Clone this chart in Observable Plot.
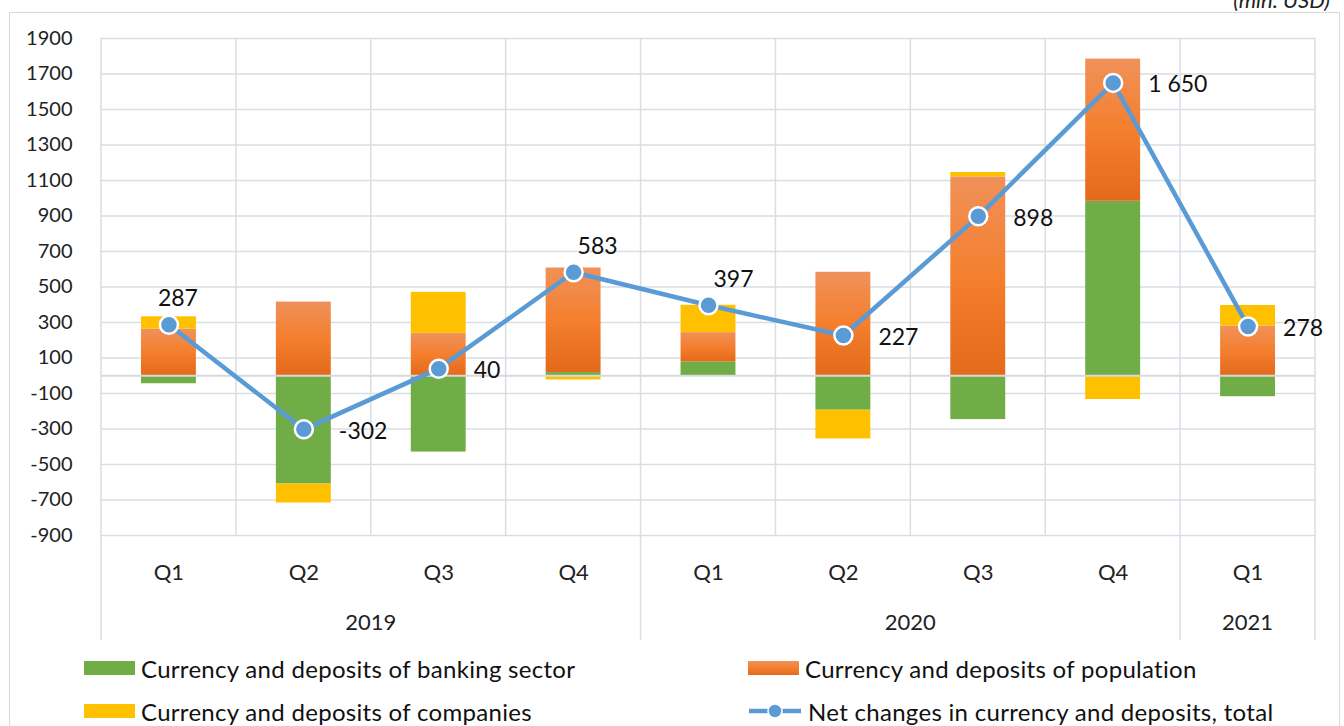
<!DOCTYPE html>
<html><head><meta charset="utf-8">
<script src="https://cdn.jsdelivr.net/npm/d3@7"></script>
<script src="https://cdn.jsdelivr.net/npm/@observablehq/plot@0.6"></script>
<style>
body{margin:0;background:#fff;font-family:Lato,sans-serif;}
#wrap{position:relative;width:1344px;height:726px;overflow:hidden;background:#fff;}
#frame{position:absolute;left:9px;top:12px;width:1331px;height:740px;border:1px solid #D9D9D9;box-sizing:border-box;}
#unit{position:absolute;right:14px;top:-11px;font-style:italic;font-size:22px;line-height:22px;color:#222;}
#chart{position:absolute;left:0;top:0;}
.leg{position:absolute;display:flex;align-items:center;height:30px;font-size:24px;letter-spacing:0.3px;color:#111;white-space:nowrap;}
.sw{width:51px;height:14px;margin-right:6px;}
</style>
</head><body>
<div id="wrap">
  <div id="frame"></div>
  <div id="unit">(mln. USD)</div>
  <div id="chart"></div>
  <div id="legend"></div>
</div>
<script>
// ---- data ----
const periods  = ["2019 Q1","2019 Q2","2019 Q3","2019 Q4","2020 Q1","2020 Q2","2020 Q3","2020 Q4","2021 Q1"];
const years    = ["2019","2020","2021"];
const seriesNames = [
  "Currency and deposits of banking sector",
  "Currency and deposits of population",
  "Currency and deposits of companies"
];
const totalName = "Net changes in currency and deposits, total";
const banking    = [-45, -610, -430, 18, 78, -194, -247, 983, -118];
const population = [262, 415, 239, 589, 165, 583, 1120, 801, 279];
const companies  = [70, -107, 231, -24, 154, -162, 25, -134, 117];
const total      = [287, -302, 40, 583, 397, 227, 898, 1650, 278];
const yTicks     = [-900,-700,-500,-300,-100,100,300,500,700,900,1100,1300,1500,1700,1900];
const labelsAbove = ["2019 Q1","2019 Q4","2020 Q1"];

// ---- tables ----
const seriesValues = [banking, population, companies];
const bars = [];
periods.forEach((p, i) => seriesNames.forEach((s, k) => bars.push({period: p, series: s, value: seriesValues[k][i]})));
const line = periods.map((p, i) => ({period: p, value: total[i]}));

const colors = ["#70AD47", "url(#popGrad)", "#FFC000"];
const fmt = d3.formatLocale({decimal: ".", thousands: "\u00a0", grouping: [3], currency: ["", ""], minus: "-"}).format(",d");
const gridColor = "#D9DEE5";
const aboveDx = {"2019 Q1": 9, "2019 Q4": 24, "2020 Q1": 25};

// custom mark: category separators + year level of the category axis
function categoryAxis(index, scales, values, dims) {
  const x = scales.x, y = scales.y;
  const bw = x.bandwidth ? x.bandwidth() : 0;
  const step = x.step ? x.step() : bw;
  const left = p => x(p) + bw / 2 - step / 2;
  const right = p => x(p) + bw / 2 + step / 2;
  const yTop = y(d3.max(yTicks)), yBot = y(d3.min(yTicks));
  const yEnd = dims.height - 10;
  const g = d3.create("svg:g");
  const firstOfYear = new Set(years.map(yr => periods.find(p => p.startsWith(yr))));
  periods.forEach((p, i) => {
    const isYear = firstOfYear.has(p);
    g.append("line").attr("x1", left(p)).attr("x2", left(p))
      .attr("y1", yTop).attr("y2", isYear ? yEnd : yBot)
      .attr("stroke", gridColor).attr("stroke-width", 1.5);
  });
  const last = periods[periods.length - 1];
  g.append("line").attr("x1", right(last)).attr("x2", right(last))
    .attr("y1", yTop).attr("y2", yEnd).attr("stroke", gridColor).attr("stroke-width", 1.5);
  years.forEach(yr => {
    const ps = periods.filter(p => p.startsWith(yr));
    const cx = (left(ps[0]) + right(ps[ps.length - 1])) / 2;
    g.append("text").attr("x", cx).attr("y", yBot + 87).attr("dy", "0.35em")
      .attr("text-anchor", "middle").attr("font-size", 22).attr("fill", "#222").text(yr);
  });
  return g.node();
}

const aboveMarks = labelsAbove.map(p => Plot.text(line.filter(d => d.period === p), {
  x: "period", y: "value", text: d => fmt(d.value), dx: aboveDx[p], dy: -26, fontSize: 23, fill: "#111", textAnchor: "middle"
}));

const chart = Plot.plot({
  width: 1344,
  height: 650,
  marginLeft: 101,
  marginRight: 29,
  marginTop: 38,
  marginBottom: 115,
  style: {fontFamily: "Lato, sans-serif", background: "none", color: "#222", overflow: "visible"},
  x: {domain: periods, paddingInner: 0.593, paddingOuter: 0.2965, round: false, label: null},
  y: {domain: [-900, 1900], label: null},
  color: {type: "ordinal", domain: seriesNames, range: colors},
  marks: [
    Plot.gridY(yTicks, {stroke: gridColor, strokeOpacity: 1, strokeWidth: 1.5}),
    categoryAxis,
    Plot.barY(bars, {x: "period", y: "value", fill: "series"}),
    Plot.ruleY([0], {stroke: "#D9D9D9", strokeWidth: 2}),
    Plot.line(line, {x: "period", y: "value", stroke: "#5B9BD5", strokeWidth: 4.5}),
    Plot.dot(line, {x: "period", y: "value", r: 9, fill: "#5B9BD5", stroke: "white", strokeWidth: 2.5}),
    ...aboveMarks,
    Plot.text(line.filter(d => !labelsAbove.includes(d.period)), {x: "period", y: "value", text: d => fmt(d.value), dx: 35, dy: 2, fontSize: 23, fill: "#111", textAnchor: "start"}),
    Plot.axisY(yTicks, {tickSize: 0, tickPadding: 29, fontSize: 20, tickFormat: d => String(d), label: null}),
    Plot.axisX({tickSize: 0, tickPadding: 29, fontSize: 22, tickFormat: d => d.split(" ")[1], label: null})
  ]
});

d3.select(chart).insert("defs", ":first-child").html(
  '<linearGradient id="popGrad" x1="0" y1="0" x2="0" y2="1">' +
  '<stop offset="0" stop-color="#F0915A"/>' +
  '<stop offset="0.5" stop-color="#F47F2E"/>' +
  '<stop offset="1" stop-color="#E36A1A"/>' +
  '</linearGradient>');
document.getElementById("chart").appendChild(chart);

// legend
const legendItems = [
  {name: seriesNames[0], kind: "bar", color: "#70AD47", left: 84, top: 653},
  {name: seriesNames[1], kind: "grad", color: "", left: 748, top: 653},
  {name: seriesNames[2], kind: "bar", color: "#FFC000", left: 84, top: 696},
  {name: totalName, kind: "line", color: "#5B9BD5", left: 748, top: 696}
];
const leg = d3.select("#legend");
legendItems.forEach(it => {
  const div = leg.append("div").attr("class", "leg").style("left", it.left + "px").style("top", it.top + "px");
  if (it.kind === "line") {
    const s = div.append("svg").attr("width", 54).attr("height", 20).style("margin-right", "6px");
    s.append("line").attr("x1", 1).attr("x2", 53).attr("y1", 10).attr("y2", 10).attr("stroke", it.color).attr("stroke-width", 4.5);
    s.append("circle").attr("cx", 27).attr("cy", 10).attr("r", 7).attr("fill", it.color).attr("stroke", "white").attr("stroke-width", 1.5);
  } else {
    const sw = div.append("div").attr("class", "sw");
    if (it.kind === "grad") sw.style("background", "linear-gradient(#F0915A, #F47F2E, #E36A1A)");
    else sw.style("background", it.color);
  }
  div.append("span").text(it.name);
});
</script>
</body></html>
